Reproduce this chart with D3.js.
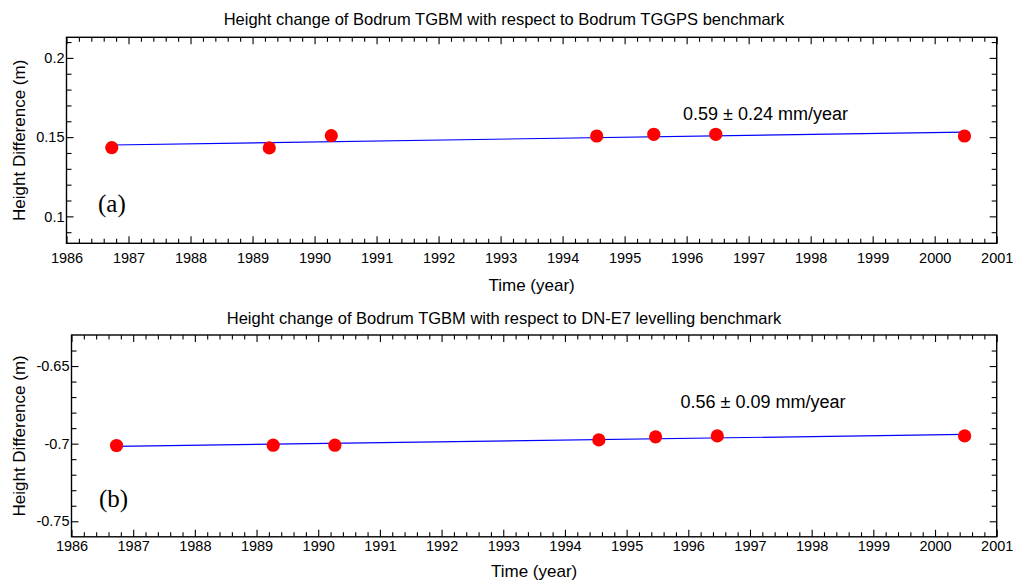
<!DOCTYPE html>
<html>
<head>
<meta charset="utf-8">
<script src="https://cdn.jsdelivr.net/npm/d3@7"></script>
<style>
  html, body { margin: 0; padding: 0; background: #fff; }
  svg { display: block; }
  text { font-family: "Liberation Sans", Arial, sans-serif; fill: #000; }
</style>
</head>
<body>
<svg id="chart" width="1013" height="583"></svg>
<script>
// Survey epochs (decimal years)
const epochs = [1986.73, 1989.27, 1990.27, 1994.55, 1995.47, 1996.47, 2000.48];

// (a) Bodrum TGBM relative to Bodrum TGGPS benchmark (m)
const heightsTGGPS = [0.1434, 0.1432, 0.1509, 0.1507, 0.1518, 0.1518, 0.1507];
// (b) Bodrum TGBM relative to DN-E7 levelling benchmark (m)
const heightsDNE7 = [-0.7012, -0.7010, -0.7010, -0.6976, -0.6956, -0.6950, -0.6950];

// Fitted rates (mm/year) and their uncertainties
const rates = [0.59, 0.56];
const rateErrors = [0.24, 0.09];

const titles = [
  "Height change of Bodrum TGBM with respect to Bodrum TGGPS benchmark",
  "Height change of Bodrum TGBM with respect to DN-E7 levelling benchmark"
];
const panelTags = ["(a)", "(b)"];

const xDomain = [1986, 2001];
const xMajorTicks = d3.range(1986, 2002, 1);
const yDomains = [[0.083, 0.213], [-0.76, -0.63]];
const yMajorTicks = [[0.1, 0.15, 0.2], [-0.75, -0.7, -0.65]];
const yMinorTicks = [
  [0.09, 0.10, 0.11, 0.12, 0.13, 0.14, 0.15, 0.16, 0.17, 0.18, 0.19, 0.20, 0.21],
  [-0.75, -0.74, -0.73, -0.72, -0.71, -0.70, -0.69, -0.68, -0.67, -0.66, -0.65, -0.64]
];
const yTickLabels = [["0.1", "0.15", "0.2"], ["-0.75", "-0.7", "-0.65"]];

// Panel frames
const layout = [
  { left: 66.5, right: 996.7, top: 37.3, bottom: 243.3, xPad: 9, titleY: 25, xTitleY: 291,
    tagX: 98, tagY: 212, rateX: 683, rateY: 120 },
  { left: 71.5, right: 996.7, top: 335, bottom: 536.8, xPad: 3.5, titleY: 324, xTitleY: 577,
    tagX: 99, tagY: 507, rateX: 680.5, rateY: 408 }
];

const series = [heightsTGGPS, heightsDNE7];
const svg = d3.select("#chart");

layout.forEach((L, i) => {
  const x = d3.scaleLinear().domain(xDomain).range([L.left, L.right]);
  const y = d3.scaleLinear().domain(yDomains[i]).range([L.bottom, L.top]);
  const g = svg.append("g");
  const xMinor = d3.range(0, 76).map(k => 1986 + k * 0.2).filter(v => Math.abs(v - Math.round(v)) > 1e-6);
  const yMinor = yMinorTicks[i].filter(v => !yMajorTicks[i].some(m => Math.abs(m - v) < 1e-9));

  const styleAxis = sel => {
    sel.select(".domain").remove();
    sel.selectAll(".tick line").attr("stroke", "#000").attr("stroke-width", 1.1);
    sel.selectAll("text").style("font-family", '"Liberation Sans", Arial, sans-serif')
      .style("font-size", "14.5px").attr("fill", "#000");
  };

  // bottom axis
  g.append("g").attr("transform", `translate(0,${L.bottom})`)
    .call(d3.axisBottom(x).tickValues(xMajorTicks).tickFormat(d3.format("d"))
      .tickSize(-7).tickPadding(L.xPad))
    .call(styleAxis);
  g.append("g").attr("transform", `translate(0,${L.bottom})`)
    .call(d3.axisBottom(x).tickValues(xMinor).tickFormat("").tickSize(-4.5))
    .call(styleAxis);
  // top axis
  g.append("g").attr("transform", `translate(0,${L.top})`)
    .call(d3.axisTop(x).tickValues(xMajorTicks).tickFormat("").tickSize(-7))
    .call(styleAxis);
  g.append("g").attr("transform", `translate(0,${L.top})`)
    .call(d3.axisTop(x).tickValues(xMinor).tickFormat("").tickSize(-4.5))
    .call(styleAxis);
  // left axis
  g.append("g").attr("transform", `translate(${L.left},0)`)
    .call(d3.axisLeft(y).tickValues(yMajorTicks[i])
      .tickFormat((d, k) => yTickLabels[i][k]).tickSize(-7).tickPadding(2))
    .call(styleAxis);
  g.append("g").attr("transform", `translate(${L.left},0)`)
    .call(d3.axisLeft(y).tickValues(yMinor).tickFormat("").tickSize(-5))
    .call(styleAxis);
  // right axis
  g.append("g").attr("transform", `translate(${L.right},0)`)
    .call(d3.axisRight(y).tickValues(yMajorTicks[i]).tickFormat("").tickSize(-7))
    .call(styleAxis);
  g.append("g").attr("transform", `translate(${L.right},0)`)
    .call(d3.axisRight(y).tickValues(yMinor).tickFormat("").tickSize(-5))
    .call(styleAxis);

  // frame
  g.append("rect")
    .attr("x", L.left).attr("y", L.top)
    .attr("width", L.right - L.left).attr("height", L.bottom - L.top)
    .attr("fill", "none").attr("stroke", "#000").attr("stroke-width", 1.4);

  // linear trend through the mean epoch/height with the stated rate
  const vals = series[i];
  const tMean = d3.mean(epochs), hMean = d3.mean(vals);
  const slope = rates[i] / 1000;
  const t0 = d3.min(epochs), t1 = d3.max(epochs);
  const trend = [[t0, hMean + slope * (t0 - tMean)], [t1, hMean + slope * (t1 - tMean)]];
  g.append("path")
    .attr("d", d3.line().x(d => x(d[0])).y(d => y(d[1]))(trend))
    .attr("fill", "none").attr("stroke", "#0000ff").attr("stroke-width", 1.2);

  // observations
  g.selectAll("circle.obs").data(epochs.map((t, k) => [t, vals[k]]))
    .join("circle").attr("class", "obs")
    .attr("cx", d => x(d[0])).attr("cy", d => y(d[1]))
    .attr("r", 6.6).attr("fill", "#ff0000");

  // texts
  g.append("text").attr("x", 504).attr("y", L.titleY)
    .attr("text-anchor", "middle").style("font-size", "16.5px").text(titles[i]);
  g.append("text").attr("x", (L.left + L.right) / 2).attr("y", L.xTitleY)
    .attr("text-anchor", "middle").style("font-size", "17px").text("Time (year)");
  g.append("text")
    .attr("transform", `translate(25,${(L.top + L.bottom) / 2}) rotate(-90)`)
    .attr("text-anchor", "middle").style("font-size", "17px").text("Height Difference (m)");
  g.append("text").attr("x", L.tagX).attr("y", L.tagY)
    .style("font-family", '"Liberation Serif", "Times New Roman", serif')
    .style("font-size", "25px").text(panelTags[i]);
  g.append("text").attr("x", L.rateX).attr("y", L.rateY)
    .style("font-size", "18px")
    .text(`${rates[i].toFixed(2)} \u00b1 ${rateErrors[i].toFixed(2)} mm/year`);
});
</script>
</body>
</html>
